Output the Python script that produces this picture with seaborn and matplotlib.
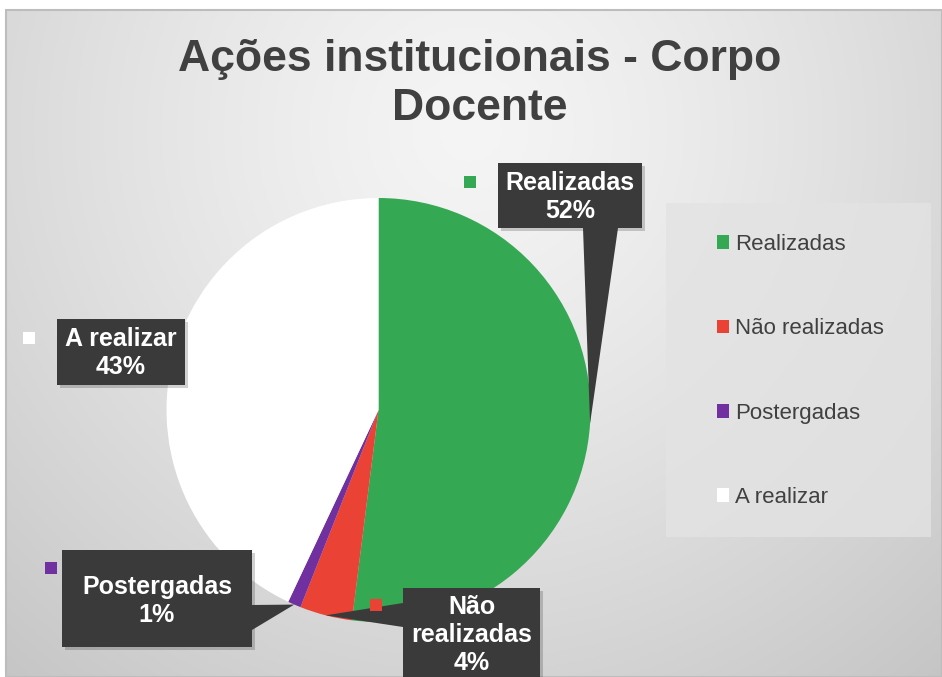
import numpy as np
import matplotlib
matplotlib.use("Agg")
import matplotlib.pyplot as plt
from matplotlib.patches import Rectangle, Polygon
import seaborn as sns

# ---------------- data ----------------
categories = ["Realizadas", "Não realizadas", "Postergadas", "A realizar"]
values = [52, 4, 1, 43]
colors = ["#34A853", "#EA4335", "#7030A0", "#FFFFFF"]
label_texts = ["Realizadas", "Não\nrealizadas", "Postergadas", "A realizar"]
title = "Ações institucionais - Corpo\nDocente"

sns.set_theme(style="white")
plt.rcParams['font.family'] = ['Liberation Sans', 'DejaVu Sans']

W, H = 942, 677
fig = plt.figure(figsize=(W / 100, H / 100), dpi=100)
fig.patch.set_facecolor('white')

# ---------------- background (pixel coordinates) ----------------
bg = fig.add_axes([0, 0, 1, 1], zorder=0)
x0b, y0b = 6, 10
yy, xx = np.mgrid[y0b:H, x0b:W]
d = np.hypot(xx - 470, yy - 130)
v = 0.96 - 0.19 * (d / 730) ** 1.3
bg.imshow(np.dstack([v, v, v]), extent=(x0b, W, H, y0b), aspect='auto', interpolation='bilinear')
bg.add_patch(Rectangle((x0b, y0b), W - x0b, H - y0b, fill=False, edgecolor='#bdbdbd', lw=1.5))
# legend panel
bg.add_patch(Rectangle((666, 203), 265, 334, facecolor='#e3e3e3', edgecolor='none', alpha=0.8))
bg.set_xlim(0, W)
bg.set_ylim(H, 0)
bg.axis('off')

# ---------------- pie ----------------
R, cx, cy = 212, 378.5, 410
pax = fig.add_axes([(cx - R) / W, (H - cy - R) / H, 2 * R / W, 2 * R / H], zorder=1)
wedges, _ = pax.pie(values, colors=colors, startangle=90, counterclock=False,
                    radius=1, wedgeprops=dict(linewidth=0))
pax.set_xlim(-1, 1)
pax.set_ylim(-1, 1)
pax.set_aspect('equal')
pax.axis('off')
pax.patch.set_alpha(0)

# ---------------- foreground callouts ----------------
fg = fig.add_axes([0, 0, 1, 1], zorder=2)
fg.set_xlim(0, W)
fg.set_ylim(H, 0)
fg.axis('off')
fg.patch.set_alpha(0)


def wedge_tip(w):
    ang = np.deg2rad((w.theta1 + w.theta2) / 2)
    p = pax.transData.transform((np.cos(ang), np.sin(ang)))
    return fg.transData.inverted().transform(p)


callouts = {
    "Realizadas": dict(box=(498, 163, 642, 228), base=[(583, 228), (618, 228)],
                       key=(464, 176), tc=197),
    "Não realizadas": dict(box=(403, 588, 540, 700), base=[(403, 603), (403, 627)],
                           key=(370, 599), tc=635),
    "Postergadas": dict(box=(62, 550, 252, 647), base=[(252, 605), (252, 630)],
                        key=(45, 562), tc=601),
    "A realizar": dict(box=(57, 319, 185, 385), base=None, key=(23, 332), tc=353),
}

box_color = '#3a3a3a'
total = sum(values)
for cat, val, col, txt, w in zip(categories, values, colors, label_texts, wedges):
    c = callouts[cat]
    bx0, by0, bx1, by1 = c['box']
    # shadow
    fg.add_patch(Rectangle((bx0 + 3, by0 + 3), bx1 - bx0, by1 - by0, facecolor='#000000',
                           alpha=0.18, edgecolor='none', zorder=2))
    fg.add_patch(Rectangle((bx0, by0), bx1 - bx0, by1 - by0, facecolor=box_color,
                           edgecolor='none', zorder=3))
    if c['base'] is not None:
        tip = wedge_tip(w)
        fg.add_patch(Polygon([c['base'][0], c['base'][1], tuple(tip)], closed=True,
                             facecolor=box_color, edgecolor='none', zorder=3))
    fg.text((bx0 + bx1) / 2, c['tc'], f"{txt}\n{val / total * 100:.0f}%",
            ha='center', va='center', color='white', fontsize=18, fontweight='bold',
            linespacing=1.22, zorder=4)
    kx, ky = c['key']
    fg.add_patch(Rectangle((kx, ky), 12, 12, facecolor=col, edgecolor='none', zorder=4))

# ---------------- title ----------------
fig.text(480 / W, 1 - 84 / H, title, ha='center', va='center', fontsize=32,
         fontweight='bold', color='#404040', linespacing=1.27)

# ---------------- legend ----------------
leg = fig.legend(wedges, categories, loc='center left',
                 bbox_to_anchor=(717 / W, 1 - 371 / H), frameon=False,
                 fontsize=16, labelspacing=2.85, handlelength=0.55, handleheight=0.55,
                 handletextpad=0.25, borderpad=0, borderaxespad=0)
for t in leg.get_texts():
    t.set_color('#404040')

fig.savefig("out.png", dpi=100, facecolor=fig.get_facecolor())
